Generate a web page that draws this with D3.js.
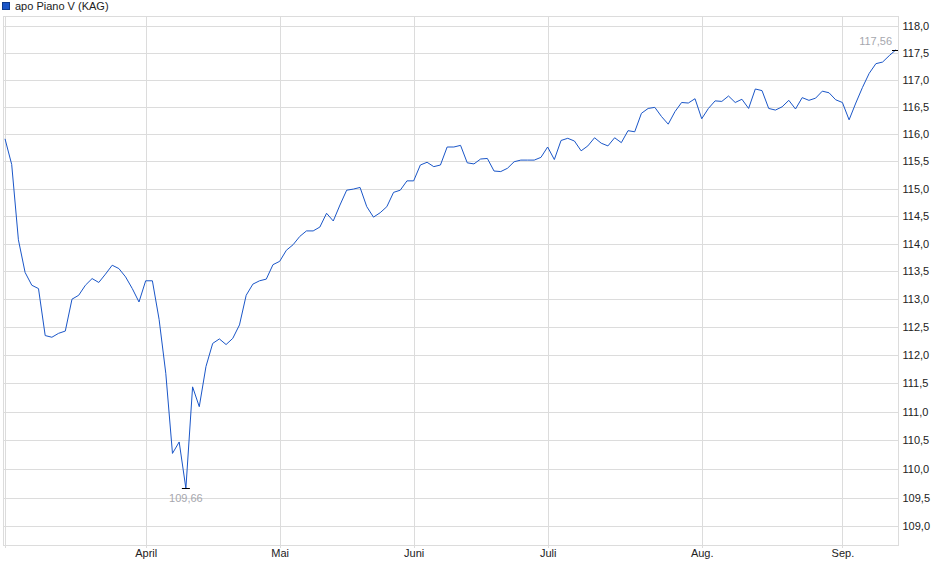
<!DOCTYPE html>
<html><head><meta charset="utf-8">
<script src="https://cdn.jsdelivr.net/npm/d3@7"></script>
<style>
html,body{margin:0;padding:0;background:#fff;}
svg{display:block;font-family:"Liberation Sans",Arial,sans-serif;}
</style>
</head><body>
<svg id="chart" width="940" height="579"></svg>
<script>
const seriesName = "apo Piano V (KAG)";
const values = [
 115.91,115.44,114.07,113.48,113.25,113.19,112.35,112.32,112.39,112.43,
 113.00,113.07,113.25,113.37,113.30,113.45,113.61,113.55,113.40,113.19,
 112.95,113.33,113.33,112.64,111.68,110.27,110.47,109.66,111.44,111.09,
 111.80,112.21,112.29,112.19,112.30,112.54,113.07,113.27,113.33,113.36,
 113.62,113.68,113.88,113.98,114.13,114.23,114.23,114.30,114.55,114.41,
 114.70,114.97,114.99,115.02,114.67,114.48,114.56,114.67,114.93,114.97,
 115.14,115.14,115.43,115.48,115.40,115.43,115.76,115.76,115.79,115.47,
 115.45,115.54,115.55,115.32,115.31,115.37,115.49,115.52,115.52,115.52,
 115.57,115.76,115.53,115.88,115.92,115.87,115.69,115.78,115.93,115.83,
 115.78,115.93,115.84,116.06,116.04,116.38,116.47,116.49,116.32,116.18,
 116.41,116.58,116.57,116.65,116.28,116.47,116.61,116.60,116.70,116.58,
 116.64,116.47,116.83,116.80,116.47,116.44,116.50,116.62,116.46,116.67,
 116.62,116.66,116.79,116.76,116.63,116.58,116.26,116.57,116.86,117.12,
 117.30,117.33,117.45,117.56
];
const monthTickIndex = [0, 21, 41, 61, 81, 104, 125];
const monthTickLabels = ["", "April", "Mai", "Juni", "Juli", "Aug.", "Sep."];
const yTickValues = [109.0,109.5,110.0,110.5,111.0,111.5,112.0,112.5,113.0,113.5,114.0,114.5,115.0,115.5,116.0,116.5,117.0,117.5,118.0];
const yDomain = [108.68, 118.19];

const svg = d3.select("#chart");
const plot = {left: 3, right: 898, top: 16, bottom: 545};
const gridColor = "#dcdcdc";
const lineColor = "#1a56c8";
const annColor = "#a6a7ae";

const x = d3.scaleLinear().domain([0, values.length - 1]).range([5, 896]);
const y = d3.scaleLog().domain(yDomain).range([plot.bottom, plot.top]);
const fmt = v => d3.format(".1f")(v).replace(".", ",");
const fmt2 = v => d3.format(".2f")(v).replace(".", ",");

// frame
svg.append("rect")
  .attr("x", plot.left + 0.5).attr("y", plot.top + 0.5)
  .attr("width", plot.right - plot.left).attr("height", plot.bottom - plot.top)
  .attr("fill", "none").attr("stroke", gridColor);

// horizontal grid + right axis
const yAxis = d3.axisRight(y).tickValues(yTickValues).tickFormat(fmt)
  .tickSize(-(plot.right - plot.left)).tickPadding(4);
const gy = svg.append("g").attr("transform", `translate(${plot.right + 0.5},0)`).call(yAxis);
gy.select(".domain").remove();
gy.selectAll(".tick line").attr("stroke", gridColor).attr("shape-rendering", "crispEdges");
gy.selectAll(".tick text").attr("fill", "#222").attr("font-size", 11)
  .attr("font-family", '"Liberation Sans",Arial,sans-serif');

// vertical grid + bottom axis
const xAxis = d3.axisBottom(x).tickValues(monthTickIndex)
  .tickFormat((d, i) => monthTickLabels[i])
  .tickSize(-(plot.bottom - plot.top)).tickPadding(4);
const gx = svg.append("g").attr("transform", `translate(0,${plot.bottom + 0.5})`).call(xAxis);
gx.select(".domain").remove();
gx.selectAll(".tick line").attr("stroke", gridColor).attr("shape-rendering", "crispEdges");
gx.selectAll(".tick text").attr("fill", "#222").attr("font-size", 11)
  .attr("font-family", '"Liberation Sans",Arial,sans-serif');
gx.selectAll(".tick").append("line").attr("y1", 0).attr("y2", 2)
  .attr("stroke", gridColor).attr("shape-rendering", "crispEdges");

// series line
svg.append("path")
  .datum(values)
  .attr("fill", "none")
  .attr("stroke", lineColor)
  .attr("stroke-width", 1)
  .attr("d", d3.line().x((d, i) => x(i)).y(d => y(d)));

// min / max markers
const minI = d3.minIndex(values), maxI = d3.maxIndex(values);
[minI, maxI].forEach(i => {
  svg.append("line")
    .attr("x1", x(i) - 4).attr("x2", Math.min(x(i) + 4, plot.right))
    .attr("y1", Math.round(y(values[i])) + 0.5).attr("y2", Math.round(y(values[i])) + 0.5)
    .attr("stroke", "#000").attr("stroke-width", 1);
});
svg.append("text")
  .attr("x", x(minI)).attr("y", y(values[minI]) + 14)
  .attr("text-anchor", "middle").attr("font-size", 11).attr("fill", annColor)
  .text(fmt2(values[minI]));
svg.append("text")
  .attr("x", x(maxI) - 4).attr("y", y(values[maxI]) - 5)
  .attr("text-anchor", "end").attr("font-size", 11).attr("fill", annColor)
  .text(fmt2(values[maxI]));

// legend
svg.append("rect").attr("x", 2.5).attr("y", 2.5).attr("width", 7).attr("height", 7)
  .attr("fill", lineColor).attr("stroke", "#0d3a8c");
svg.append("text").attr("x", 15).attr("y", 10).attr("font-size", 11).attr("fill", "#222")
  .text(seriesName);
</script>
</body></html>
